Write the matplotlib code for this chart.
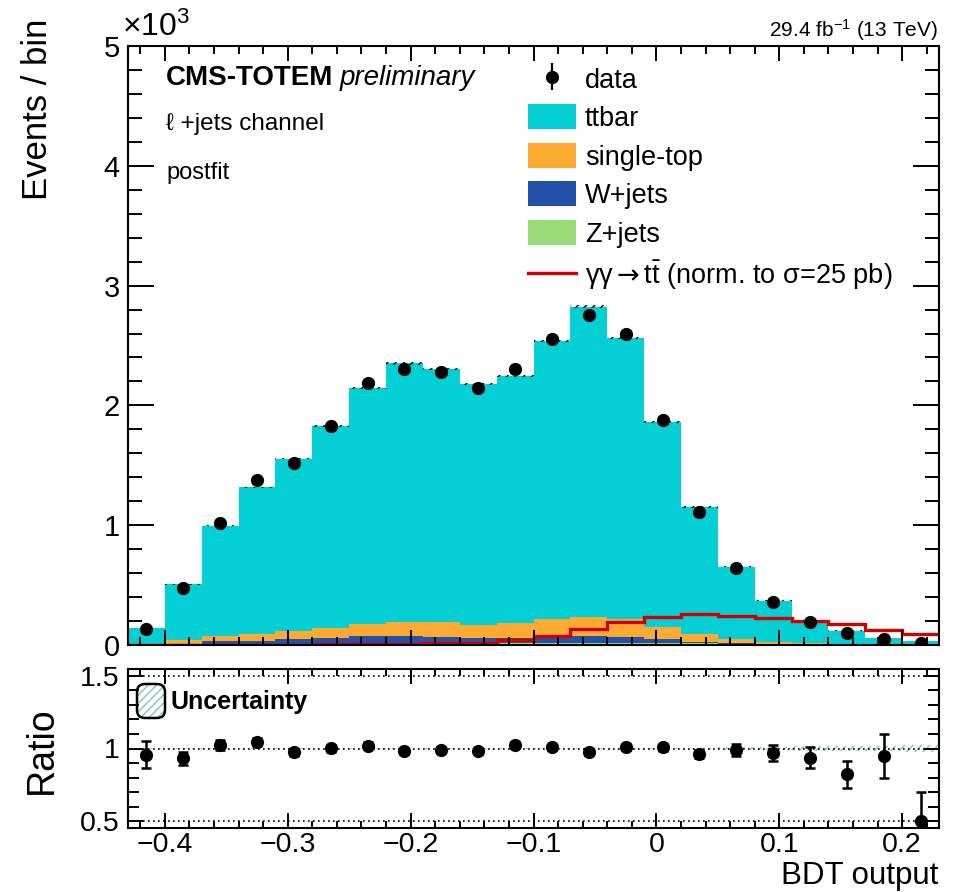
import numpy as np
import matplotlib
matplotlib.use('Agg')
import matplotlib.pyplot as plt
from matplotlib.ticker import MultipleLocator, FuncFormatter
from matplotlib.patches import Patch, Rectangle, FancyBboxPatch
from matplotlib.lines import Line2D

plt.rcParams['font.family'] = ['Liberation Sans', 'DejaVu Sans']
plt.rcParams['mathtext.fontset'] = 'custom'
plt.rcParams['mathtext.rm'] = 'Liberation Sans'
plt.rcParams['mathtext.it'] = 'Liberation Sans:italic'
plt.rcParams['mathtext.bf'] = 'Liberation Sans:bold'
plt.rcParams['mathtext.sf'] = 'DejaVu Sans'
plt.rcParams['mathtext.fallback'] = 'stixsans'
plt.rcParams['hatch.linewidth'] = 1.0

# ---------------- data ----------------
bin_edges = [-0.43, -0.40, -0.37, -0.34, -0.31, -0.28, -0.25, -0.22, -0.19, -0.16,
             -0.13, -0.10, -0.07, -0.04, -0.01, 0.02, 0.05, 0.08, 0.11, 0.14,
             0.17, 0.20, 0.23]
data = [133, 472, 1022, 1374, 1517, 1829, 2187, 2303, 2278, 2143, 2300,
        2557, 2754, 2592, 1878, 1108, 646, 358, 195, 98, 53, 16]
data_err = [13, 22, 32, 37, 39, 43, 47, 48, 48, 46, 48,
            51, 52, 51, 43, 33, 25, 20, 15, 11, 8.5, 6.5]
ttbar = [134, 467, 925, 1222, 1439, 1683, 1972, 2158, 2111, 2011, 2063,
         2325, 2589, 2350, 1708, 1064, 603, 341, 189, 108, 50, 28]
single_top = [0, 29, 41, 59, 70, 84, 100, 120, 128, 111, 121,
              139, 161, 144, 103, 61, 36, 20, 14, 8, 4, 3]
wjets = [5, 9, 29, 33, 43, 53, 66, 65, 56, 46, 46,
         57, 55, 50, 32, 14, 4, 1, 0, 0, 0, 0]
zjets = [0, 1, 2, 3, 4, 5, 6, 7, 8, 10, 14,
         18, 20, 20, 18, 14, 10, 7, 5, 3, 2, 1]
signal = [0, 0, 1, 2, 3, 5, 7, 10, 13, 20, 40,
          75, 135, 195, 237, 255, 245, 228, 200, 174, 125, 90]
syst_rel = [0.006, 0.005, 0.004, 0.004, 0.004, 0.004, 0.004, 0.004, 0.004, 0.004, 0.004,
            0.004, 0.004, 0.004, 0.005, 0.006, 0.008, 0.012, 0.015, 0.018, 0.020, 0.022]

c_tt = '#03CFD4'
c_st = '#FDAA33'
c_w = '#2350A8'
c_z = '#99DC77'
c_sig = '#D00000'
c_unc = '#7CC8B4'

W, H = 958, 892
fig = plt.figure(figsize=(W / 100, H / 100), dpi=100)


def fx(x):
    return x / W


def fy(y):
    return 1 - y / H


def fmt(v, p):
    s = '%g' % round(v, 2)
    return s.replace('-', '\u2212')


ax = fig.add_axes([fx(128), fy(645), fx(939) - fx(128), fy(46) - fy(645)])
ax2 = fig.add_axes([fx(128), fy(828), fx(939) - fx(128), fy(669) - fy(828)])

edges = np.array(bin_edges)
centers = 0.5 * (edges[:-1] + edges[1:])
n = len(centers)

stack = [(zjets, c_z), (wjets, c_w), (single_top, c_st), (ttbar, c_tt)]
bottom = np.zeros(n)
for vals, col in stack:
    v = np.array(vals, dtype=float)
    ax.stairs(bottom + v, edges, baseline=bottom.copy(), fill=True,
              facecolor=col, edgecolor='none', lw=0)
    bottom = bottom + v
total = bottom

unc = np.array(syst_rel)
ax.stairs(total * (1 + unc), edges, baseline=total * (1 - unc), fill=True,
          facecolor='none', edgecolor='black', hatch='////', lw=0)

ax.stairs(signal, edges, baseline=None, color=c_sig, lw=2.4)

d = np.array(data, dtype=float)
de = np.array(data_err, dtype=float)
ax.errorbar(centers, d, yerr=de, fmt='o', color='black', ms=8.5,
            elinewidth=1.6, capsize=0, zorder=5)

ax.set_xlim(edges[0], edges[-1])
ax.set_ylim(0, 5000)
ax.yaxis.set_major_locator(MultipleLocator(1000))
ax.yaxis.set_minor_locator(MultipleLocator(200))
ax.xaxis.set_major_locator(MultipleLocator(0.1))
ax.xaxis.set_minor_locator(MultipleLocator(0.02))
ax.yaxis.set_major_formatter(FuncFormatter(lambda v, p: '%g' % (v / 1000)))
ax.tick_params(axis='both', which='both', direction='in', top=True, right=True,
               labelbottom=False, width=1.4)
ax.tick_params(axis='y', which='major', length=19, labelsize=21, pad=6)
ax.tick_params(axis='y', which='minor', length=10)
ax.tick_params(axis='x', which='major', length=11)
ax.tick_params(axis='x', which='minor', length=5.5)
for s in ax.spines.values():
    s.set_linewidth(1.5)

# legend
h_data = ax.errorbar([], [], yerr=[], fmt='o', color='black', ms=8.5, elinewidth=1.6)
handles = [h_data,
           Patch(facecolor=c_tt, edgecolor='none'),
           Patch(facecolor=c_st, edgecolor='none'),
           Patch(facecolor=c_w, edgecolor='none'),
           Patch(facecolor=c_z, edgecolor='none'),
           Line2D([], [], color=c_sig, lw=2.4)]
leg_labels = ['data', 'ttbar', 'single-top', 'W+jets', 'Z+jets',
              r'$\mathregular{\gamma\gamma}\mathsf{\rightarrow}\mathregular{t\bar{t}}$'
              ' (norm. to σ=25 pb)']
ax.legend(handles, leg_labels, loc='upper left',
          bbox_to_anchor=((528 - 128) / 811, (645 - 66) / 599),
          frameon=False, fontsize=19.5, borderpad=0, borderaxespad=0,
          handlelength=1.78, handleheight=1.03, handletextpad=0.32,
          labelspacing=0.40)

# texts
tc = fig.text(fx(166), fy(78), 'CMS-TOTEM', fontsize=20, fontweight='bold',
              va='center', ha='left')
fig.canvas.draw()
bb = tc.get_window_extent()
fig.text(bb.x1 / W + fx(6), fy(78), 'preliminary', fontsize=20, style='italic',
         va='center', ha='left')
fig.text(fx(166), fy(124), 'ℓ +jets channel', fontsize=17.5, va='center', ha='left')
fig.text(fx(166), fy(173), 'postfit', fontsize=17, va='center', ha='left')
fig.text(fx(938), fy(30), r'29.4 fb$\mathregular{^{-1}}$ (13 TeV)', fontsize=15,
         va='center', ha='right')
fig.text(fx(122), fy(27), r'×10$\mathregular{^{3}}$', fontsize=23,
         va='center', ha='left')
fig.text(fx(38), fy(19), 'Events / bin', fontsize=25, rotation=90,
         va='top', ha='center')
fig.text(fx(42), fy(750), 'Ratio', fontsize=27, rotation=90,
         va='center', ha='center')
fig.text(fx(938), fy(876), 'BDT output', fontsize=22.5, va='center', ha='right')

# ratio panel
ratio = d / total
ratio_err = de / total
ax2.stairs(1 + unc, edges, baseline=1 - unc, fill=True,
           facecolor='none', edgecolor=c_unc, hatch='////', lw=0)
for yv in (0.5, 1.0, 1.5):
    ax2.axhline(yv, color='black', ls=(0, (1, 2)), lw=1.2, zorder=1)
ax2.errorbar(centers, ratio, yerr=ratio_err, fmt='o', color='black', ms=8.5,
             elinewidth=1.8, capsize=3.5, capthick=1.8, zorder=5, clip_on=True)
ax2.set_xlim(edges[0], edges[-1])
ax2.set_ylim(0.455, 1.545)
ax2.yaxis.set_major_locator(MultipleLocator(0.5))
ax2.yaxis.set_minor_locator(MultipleLocator(0.1))
ax2.xaxis.set_major_locator(MultipleLocator(0.1))
ax2.xaxis.set_minor_locator(MultipleLocator(0.02))
ax2.xaxis.set_major_formatter(FuncFormatter(fmt))
ax2.yaxis.set_major_formatter(FuncFormatter(fmt))
ax2.tick_params(axis='both', which='both', direction='in', top=True, right=True,
                width=1.4, labelsize=20.5)
ax2.tick_params(axis='x', which='major', length=11, pad=3)
ax2.tick_params(axis='x', which='minor', length=5)
ax2.tick_params(axis='y', which='major', length=11, pad=6)
ax2.tick_params(axis='y', which='minor', length=8)
for s in ax2.spines.values():
    s.set_linewidth(1.5)

# uncertainty legend box
x0, x1 = (137 - 128) / 811, (165 - 128) / 811
y0 = (828 - 718) / 159
y1 = (828 - 684) / 159
ax2.add_patch(Rectangle((x0, y0), x1 - x0, y1 - y0, transform=ax2.transAxes,
                        facecolor='none', edgecolor=c_unc, hatch='////', lw=0))
ax2.add_patch(FancyBboxPatch((x0, y0), x1 - x0, y1 - y0, transform=ax2.transAxes,
                             boxstyle='round,pad=0,rounding_size=0.01',
                             facecolor='none', edgecolor='black', lw=1.8,
                             mutation_aspect=5))
fig.text(fx(170), fy(702), 'Uncertainty', fontsize=18, fontweight='bold',
         va='center', ha='left')

fig.savefig('out.png', dpi=100)
